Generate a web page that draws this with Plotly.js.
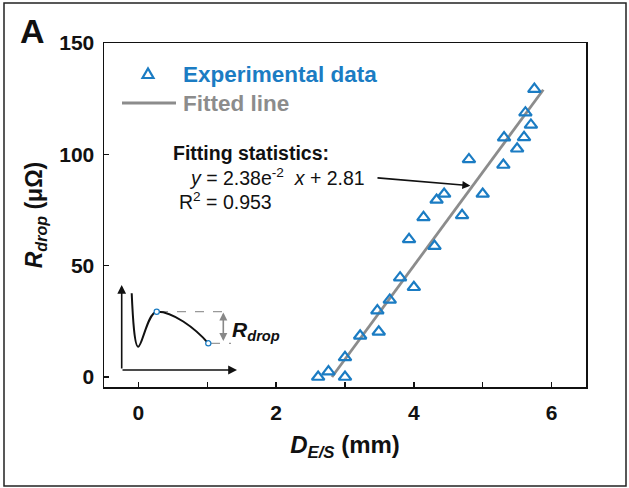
<!DOCTYPE html>
<html>
<head>
<meta charset="utf-8">
<script src="https://cdn.plot.ly/plotly-3.0.1.min.js"></script>
<style>html,body{margin:0;padding:0;background:#fff;}#chart{width:629px;height:488px;}</style>
</head>
<body>
<div id="chart"></div>
<script>
// Experimental data: D_E/S (mm) vs R_drop (µΩ)
const dES = [2.61, 2.76, 3.00, 3.00, 3.22, 3.49, 3.47, 3.65, 3.80, 4.00, 3.93, 4.14, 4.30, 4.33, 4.44, 4.70, 4.80, 5.00, 5.30, 5.31, 5.50, 5.60, 5.62, 5.70, 5.75];
const rDrop = [0.0, 2.4, 0.0, 8.8, 18.5, 20.3, 29.8, 34.6, 44.6, 40.3, 61.8, 71.7, 58.8, 79.5, 82.2, 72.6, 97.7, 82.2, 95.2, 107.5, 102.5, 107.6, 118.7, 113.2, 129.3];
// Fitted line end points
const fitX = [2.81, 5.88];
const fitY = [0, 129];
const xTicks = [0, 2, 4, 6];
const yTicks = [0, 50, 100, 150];
const seriesNames = ['Experimental data', 'Fitted line'];

const BLUE = '#1b7cc3';
const GRAY = '#8c8c8c';
const FONT = 'Liberation Sans, Arial, Helvetica, sans-serif';

const W = 629, H = 488;
const M = {l: 104, r: 43, t: 43, b: 101};
const PW = W - M.l - M.r, PH = H - M.t - M.b;
const PX = x => (x - M.l) / PW;
const PY = y => (H - M.b - y) / PH;

const traces = [
  {x: fitX, y: fitY, mode: 'lines', type: 'scatter', name: seriesNames[1],
   line: {color: GRAY, width: 2.8}, showlegend: false, hoverinfo: 'skip'},
  {x: dES, y: rDrop, mode: 'markers', type: 'scatter', name: seriesNames[0],
   marker: {symbol: 'triangle-up-open', size: 11, color: BLUE, line: {color: BLUE, width: 2.2}},
   showlegend: false}
];

function pt(x, y) { return PX(x).toFixed(5) + ',' + PY(y).toFixed(5); }
// inset schematic curve
const curve = 'M' + pt(131.7, 293.3) +
  ' C' + pt(132.8, 318) + ' ' + pt(134.5, 347) + ' ' + pt(138.3, 346.7) +
  ' C' + pt(142, 346.5) + ' ' + pt(148, 312) + ' ' + pt(156.7, 311.7) +
  ' C' + pt(172, 311) + ' ' + pt(195, 328) + ' ' + pt(208.3, 343.3);
// legend triangle symbol
const legTri = 'M' + pt(142.5, 78) + ' L' + pt(153.5, 78) + ' L' + pt(148, 68.5) + ' Z';

function circ(cx, cy, r) {
  return {type: 'circle', xref: 'paper', yref: 'paper',
    x0: PX(cx - r), x1: PX(cx + r), y0: PY(cy + r), y1: PY(cy - r),
    line: {color: BLUE, width: 1.2}, fillcolor: 'white'};
}

const shapes = [
  // figure border
  {type: 'rect', xref: 'paper', yref: 'paper', x0: PX(4), x1: PX(626), y0: PY(486), y1: PY(3),
   line: {color: '#222', width: 1.5}},
  // legend symbols
  {type: 'path', xref: 'paper', yref: 'paper', path: legTri, line: {color: BLUE, width: 2.2}},
  {type: 'line', xref: 'paper', yref: 'paper', x0: PX(122), x1: PX(176), y0: PY(103), y1: PY(103),
   line: {color: GRAY, width: 2.8}},
  // dashed guides
  {type: 'line', xref: 'paper', yref: 'paper', x0: PX(159), x1: PX(231), y0: PY(311.7), y1: PY(311.7),
   line: {color: '#999', width: 1.2, dash: 'dash'}},
  {type: 'line', xref: 'paper', yref: 'paper', x0: PX(211), x1: PX(231), y0: PY(343.3), y1: PY(343.3),
   line: {color: '#999', width: 1.2, dash: 'dash'}},
  // curve
  {type: 'path', xref: 'paper', yref: 'paper', path: curve, line: {color: '#111', width: 2}},
  circ(156.7, 311.7, 2.6),
  circ(208.3, 343.3, 2.6)
];

const annotations = [
  {xref: 'paper', yref: 'paper', x: PX(32), y: PY(31), text: '<b>A</b>', showarrow: false,
   font: {size: 34, color: '#111', family: FONT}, xanchor: 'center', yanchor: 'middle'},
  // legend texts
  {xref: 'paper', yref: 'paper', x: PX(181), y: PY(74), text: '<b>' + seriesNames[0] + '</b>', showarrow: false,
   font: {size: 22.5, color: BLUE, family: FONT}, xanchor: 'left', yanchor: 'middle'},
  {xref: 'paper', yref: 'paper', x: PX(181), y: PY(103), text: '<b>' + seriesNames[1] + '</b>', showarrow: false,
   font: {size: 22.5, color: GRAY, family: FONT}, xanchor: 'left', yanchor: 'middle'},
  // fitting statistics
  {xref: 'paper', yref: 'paper', x: PX(171), y: PY(153), text: '<b>Fitting statistics:</b>', showarrow: false,
   font: {size: 19.5, color: '#111', family: FONT}, xanchor: 'left', yanchor: 'middle'},
  {xref: 'paper', yref: 'paper', x: PX(187), y: PY(177), text: '<i>y</i> = 2.38e<sup>-2</sup>  <i>x</i> + 2.81', showarrow: false,
   font: {size: 19.5, color: '#111', family: FONT}, xanchor: 'left', yanchor: 'middle'},
  {xref: 'paper', yref: 'paper', x: PX(177), y: PY(201), text: 'R<sup>2</sup> = 0.953', showarrow: false,
   font: {size: 19.5, color: '#111', family: FONT}, xanchor: 'left', yanchor: 'middle'},
  // pointer arrow
  {xref: 'x', yref: 'y', axref: 'x', ayref: 'y', x: 4.82, y: 85.9, ax: 3.45, ay: 89.5, text: '',
   showarrow: true, arrowhead: 2, arrowsize: 1, arrowwidth: 1.6, arrowcolor: '#111', standoff: 0},
  // inset axes
  {xref: 'paper', yref: 'paper', x: PX(121.7), y: PY(285), ax: 0, ay: 85, text: '',
   showarrow: true, arrowhead: 2, arrowsize: 1.1, arrowwidth: 1.6, arrowcolor: '#111'},
  {xref: 'paper', yref: 'paper', x: PX(237), y: PY(370), ax: -116, ay: 0, text: '',
   showarrow: true, arrowhead: 2, arrowsize: 1.1, arrowwidth: 1.6, arrowcolor: '#111'},
  // R_drop double arrow
  {xref: 'paper', yref: 'paper', x: PX(223.3), y: PY(312.5), ax: 0, ay: 30, text: '',
   showarrow: true, arrowhead: 2, startarrowhead: 2, arrowside: 'end+start', arrowsize: 1, arrowwidth: 1.6, arrowcolor: '#888'},
  {xref: 'paper', yref: 'paper', x: PX(230), y: PY(331), text: '<b><i>R</i><sub><i>drop</i></sub></b>', showarrow: false,
   font: {size: 21, color: '#111', family: FONT}, xanchor: 'left', yanchor: 'middle'}
];

const layout = {
  width: W, height: H,
  margin: M,
  paper_bgcolor: 'white', plot_bgcolor: 'white',
  font: {family: FONT, color: '#111'},
  showlegend: false,
  xaxis: {
    range: [-0.5, 6.5], tickmode: 'array', tickvals: xTicks, ticktext: xTicks.map(String),
    ticks: 'inside', ticklen: 5, tickwidth: 1.3, tickcolor: '#111',
    minor: {dtick: 1, tick0: 0, ticks: 'inside', ticklen: 5, tickwidth: 1.3, tickcolor: '#111', showgrid: false},
    showline: true, linecolor: '#111', linewidth: 1.5, mirror: true,
    showgrid: false, zeroline: false,
    tickfont: {size: 21, weight: 'bold', family: FONT, color: '#111'},
    ticklabelstandoff: 6,
    title: {text: '<b><i>D</i><sub><i>E/S</i></sub> (mm)</b>', font: {size: 24, family: FONT, color: '#111'}, standoff: 13}
  },
  yaxis: {
    range: [-4.5, 150], tickmode: 'array', tickvals: yTicks, ticktext: yTicks.map(String),
    ticks: 'inside', ticklen: 5, tickwidth: 1.3, tickcolor: '#111',
    showline: true, linecolor: '#111', linewidth: 1.5, mirror: true,
    showgrid: false, zeroline: false,
    tickfont: {size: 21, weight: 'bold', family: FONT, color: '#111'},
    ticklabelstandoff: 4,
    title: {text: '<b><i>R</i><sub><i>drop</i></sub> (μΩ)</b>', font: {size: 23, family: FONT, color: '#111'}, standoff: 10}
  },
  shapes: shapes,
  annotations: annotations
};

Plotly.newPlot('chart', traces, layout, {displayModeBar: false, staticPlot: true});
</script>
</body>
</html>
